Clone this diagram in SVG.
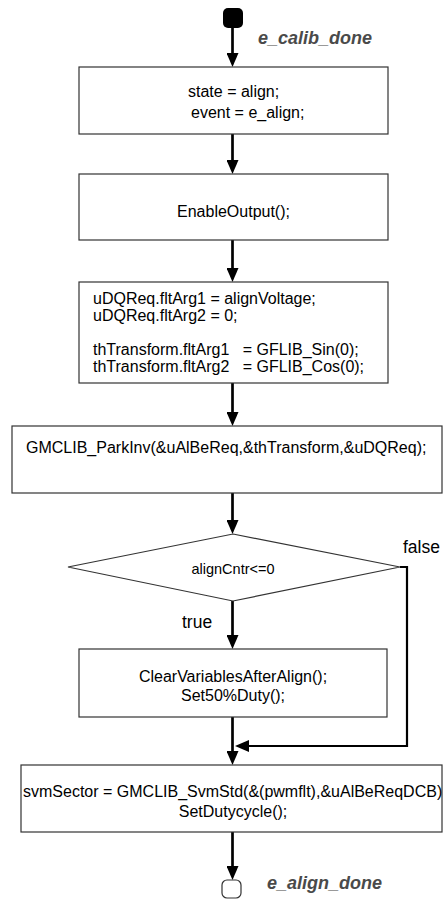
<svg xmlns="http://www.w3.org/2000/svg" width="444" height="899" viewBox="0 0 444 899">
  <style>
    .box { fill: #ffffff; stroke: #333333; stroke-width: 1.2; }
    .txt { font-family: "Liberation Sans", Arial, sans-serif; font-size: 16px; fill: #000000; white-space: pre; }
    .mid { text-anchor: middle; }
    .lbl { font-size: 17.5px; }
    .evt { font-family: "Liberation Sans", Arial, sans-serif; font-size: 18px; font-weight: bold; font-style: italic; fill: #4a4a4a; }
    .flow { fill: none; stroke: #000000; stroke-width: 2.7; }
    .thin { fill: none; stroke: #000000; stroke-width: 2.2; }
  </style>
  <defs>
    <marker id="arrow" viewBox="0 0 14 12" refX="4" refY="6" markerWidth="14" markerHeight="12" orient="auto" markerUnits="userSpaceOnUse">
      <path d="M0,0 L14,6 L0,12 z" fill="#000000"/>
    </marker>
  </defs>

  <rect width="444" height="899" fill="#ffffff"/>

  <!-- connectors -->
  <g id="connectors">
    <path class="flow" d="M232.5,28 V57" marker-end="url(#arrow)"/>
    <path class="flow" d="M232.5,134 V164" marker-end="url(#arrow)"/>
    <path class="flow" d="M232.5,240 V272" marker-end="url(#arrow)"/>
    <path class="flow" d="M232.5,383 V416" marker-end="url(#arrow)"/>
    <path class="flow" d="M232.5,493 V524" marker-end="url(#arrow)"/>
    <path class="flow" d="M232.5,601 V639" marker-end="url(#arrow)"/>
    <path class="flow" d="M232.5,717 V755" marker-end="url(#arrow)"/>
    <path class="thin" d="M400,567 H407 V746 H245" marker-end="url(#arrow)"/>
    <path class="flow" d="M232.5,832 V870" marker-end="url(#arrow)"/>
  </g>

  <!-- start terminal -->
  <g id="start">
    <rect x="223" y="8" width="20" height="20" rx="5" fill="#000000"/>
    <text class="evt" x="258" y="44">e_calib_done</text>
  </g>

  <g id="set-state">
    <rect class="box" x="79" y="67" width="309" height="67"/>
    <text class="txt" x="188" y="97">state = align;</text>
    <text class="txt" x="191" y="118">event = e_align;</text>
  </g>

  <g id="enable-output">
    <rect class="box" x="79" y="174" width="309" height="66"/>
    <text class="txt mid" x="233.5" y="217">EnableOutput();</text>
  </g>

  <g id="init-args">
    <rect class="box" x="79" y="282" width="309" height="101"/>
    <text class="txt" x="93" y="304">uDQReq.fltArg1 = alignVoltage;</text>
    <text class="txt" x="93" y="321">uDQReq.fltArg2 = 0;</text>
    <text class="txt" x="93" y="355">thTransform.fltArg1   = GFLIB_Sin(0);</text>
    <text class="txt" x="93" y="372">thTransform.fltArg2   = GFLIB_Cos(0);</text>
  </g>

  <g id="park-inv">
    <rect class="box" x="12" y="426" width="430" height="67"/>
    <text class="txt" x="26" y="453">GMCLIB_ParkInv(&amp;uAlBeReq,&amp;thTransform,&amp;uDQReq);</text>
  </g>

  <g id="decision">
    <polygon class="box" points="233,534 400,567 233,601 68,567"/>
    <text class="txt mid" x="233" y="574" style="font-size:14.5px">alignCntr&lt;=0</text>
    <text class="txt lbl" x="403" y="553">false</text>
    <text class="txt lbl" x="182" y="628">true</text>
  </g>

  <g id="clear-vars">
    <rect class="box" x="79" y="649" width="308" height="68"/>
    <text class="txt mid" x="233" y="682">ClearVariablesAfterAlign();</text>
    <text class="txt mid" x="233" y="701">Set50%Duty();</text>
  </g>

  <g id="svm">
    <rect class="box" x="21" y="765" width="421" height="67"/>
    <text class="txt" x="23" y="797">svmSector = GMCLIB_SvmStd(&amp;(pwmflt),&amp;uAlBeReqDCB)</text>
    <text class="txt mid" x="233" y="817">SetDutycycle();</text>
  </g>

  <!-- end terminal -->
  <g id="end">
    <rect x="222" y="880" width="19" height="18" rx="5" fill="#ffffff" stroke="#333333" stroke-width="1.2"/>
    <text class="evt" x="267" y="889">e_align_done</text>
  </g>
</svg>
